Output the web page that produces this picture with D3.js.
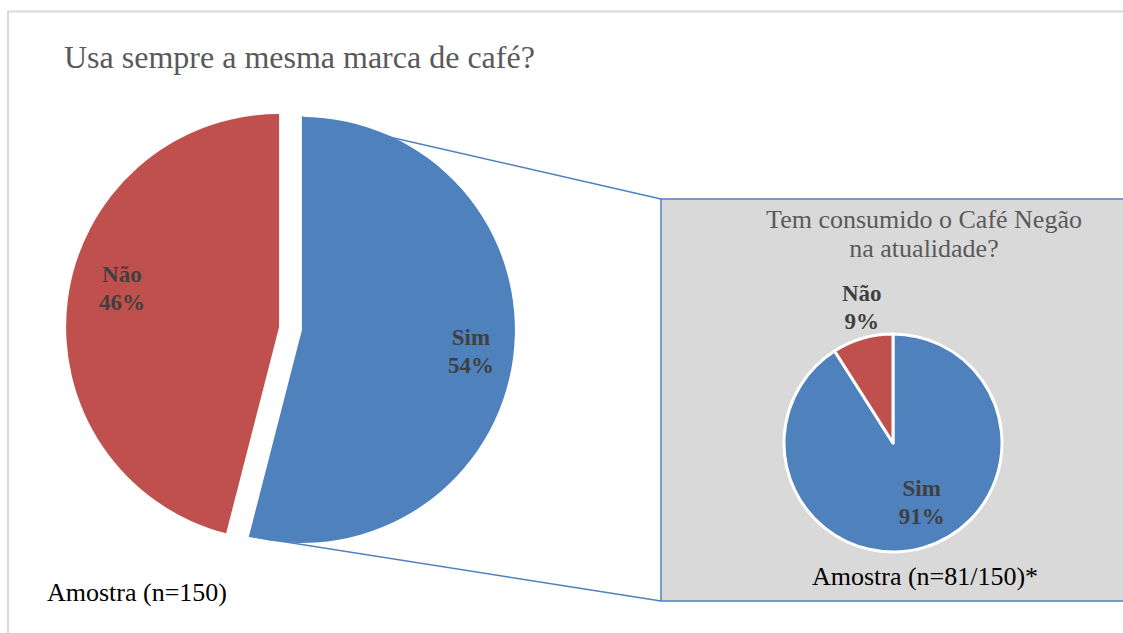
<!DOCTYPE html>
<html>
<head>
<meta charset="utf-8">
<script src="https://cdn.jsdelivr.net/npm/d3@7"></script>
<style>
  html, body { margin: 0; padding: 0; background: #fff; }
  svg { display: block; }
  text { font-family: "Liberation Serif", "Times New Roman", serif; }
</style>
</head>
<body>
<svg id="chart" width="1123" height="633"></svg>
<script>
// ---- data ----
const mainTitle = "Usa sempre a mesma marca de café?";
const mainCategories = ["Sim", "Não"];
const mainValues = [54, 46];
const mainSample = "Amostra (n=150)";

const subTitleLines = ["Tem consumido o Café Negão", "na atualidade?"];
const subCategories = ["Sim", "Não"];
const subValues = [91, 9];
const subSample = "Amostra (n=81/150)*";

const colors = ["#4F81BD", "#C0504D"];

// ---- layout ----
const svg = d3.select("#chart");
const W = 1123, H = 633;

// outer chart frame
svg.append("rect")
  .attr("x", 8).attr("y", 11.5)
  .attr("width", W + 20).attr("height", H + 20)
  .attr("fill", "#fff").attr("stroke", "#d9d9d9").attr("stroke-width", 2);

svg.append("text")
  .attr("x", 64).attr("y", 68)
  .attr("font-size", 32).attr("fill", "#595959")
  .text(mainTitle);

// main pie
const mainCx = 290.5, mainCy = 328.5, mainR = 213, explode = 11.5;
const pie = d3.pie().sort(null).value(d => d).startAngle(0).endAngle(2 * Math.PI);
const mainArcs = pie(mainValues);
const arcMain = d3.arc().innerRadius(0).outerRadius(mainR);
const color = d3.scaleOrdinal().domain(mainCategories).range(colors);

const offset = d => {
  const m = (d.startAngle + d.endAngle) / 2;
  return [explode * Math.sin(m), -explode * Math.cos(m)];
};

// zoom box
const box = { x: 661, y: 199, w: 500, h: 402 };

// connector lines from the "Sim" slice to the box
const simArc = mainArcs[0];
const [ox, oy] = offset(simArc);
const pStart = [mainCx + ox + mainR * Math.sin(simArc.startAngle), mainCy + oy - mainR * Math.cos(simArc.startAngle)];
const pEnd = [mainCx + ox + mainR * Math.sin(simArc.endAngle), mainCy + oy - mainR * Math.cos(simArc.endAngle)];

svg.append("rect")
  .attr("x", box.x).attr("y", box.y).attr("width", box.w).attr("height", box.h)
  .attr("fill", "#d9d9d9").attr("stroke", "#4F81BD").attr("stroke-width", 1.5);

svg.append("line")
  .attr("x1", pStart[0]).attr("y1", pStart[1]).attr("x2", box.x).attr("y2", box.y)
  .attr("stroke", "#4F81BD").attr("stroke-width", 1.5);
svg.append("line")
  .attr("x1", pEnd[0]).attr("y1", pEnd[1]).attr("x2", box.x).attr("y2", box.y + box.h)
  .attr("stroke", "#4F81BD").attr("stroke-width", 1.5);

const gMain = svg.append("g").attr("transform", `translate(${mainCx},${mainCy})`);
gMain.selectAll("path").data(mainArcs).enter().append("path")
  .attr("d", arcMain)
  .attr("fill", (d, i) => color(mainCategories[i]))
  .attr("transform", d => { const o = offset(d); return `translate(${o[0]},${o[1]})`; });

// main labels (angle fraction within slice, radius fraction)
const mainLabelPos = [{ t: 0.5, r: 0.8 }, { t: 0.54, r: 0.76 }];
mainArcs.forEach((d, i) => {
  const a = d.startAngle + (d.endAngle - d.startAngle) * mainLabelPos[i].t;
  const o = offset(d);
  const x = o[0] + mainR * mainLabelPos[i].r * Math.sin(a);
  const y = o[1] - mainR * mainLabelPos[i].r * Math.cos(a);
  const t = gMain.append("text")
    .attr("text-anchor", "middle").attr("font-size", 23).attr("font-weight", "bold")
    .attr("fill", "#404040");
  t.append("tspan").attr("x", x).attr("y", y - 6).text(mainCategories[i]);
  t.append("tspan").attr("x", x).attr("y", y + 22).text(Math.round(d.data) + "%");
});

svg.append("text")
  .attr("x", 47).attr("y", 601)
  .attr("font-size", 26).attr("fill", "#000")
  .text(mainSample);

// sub pie
const subCx = 893, subCy = 443, subR = 109;
const subArcs = pie(subValues);
const arcSub = d3.arc().innerRadius(0).outerRadius(subR);

const subTitle = svg.append("text")
  .attr("text-anchor", "middle").attr("font-size", 26).attr("fill", "#595959");
subTitleLines.forEach((l, i) => {
  subTitle.append("tspan").attr("x", 924).attr("y", 228 + i * 29).text(l);
});

const gSub = svg.append("g").attr("transform", `translate(${subCx},${subCy})`);
gSub.selectAll("path").data(subArcs).enter().append("path")
  .attr("d", arcSub)
  .attr("fill", (d, i) => color(subCategories[i]))
  .attr("stroke", "#fff").attr("stroke-width", 3).attr("stroke-linejoin", "round");

const subLabelPos = [{ t: 0.47, r: 0.6 }, { t: 0.6, r: 1.28 }];
subArcs.forEach((d, i) => {
  const a = d.startAngle + (d.endAngle - d.startAngle) * subLabelPos[i].t;
  const x = subR * subLabelPos[i].r * Math.sin(a);
  const y = -subR * subLabelPos[i].r * Math.cos(a);
  const t = gSub.append("text")
    .attr("text-anchor", "middle").attr("font-size", 23).attr("font-weight", "bold")
    .attr("fill", "#404040");
  t.append("tspan").attr("x", x).attr("y", y - 6).text(subCategories[i]);
  t.append("tspan").attr("x", x).attr("y", y + 22).text(Math.round(d.data) + "%");
});

svg.append("text")
  .attr("x", 925).attr("y", 585)
  .attr("text-anchor", "middle").attr("font-size", 26).attr("fill", "#000")
  .text(subSample);
</script>
</body>
</html>
